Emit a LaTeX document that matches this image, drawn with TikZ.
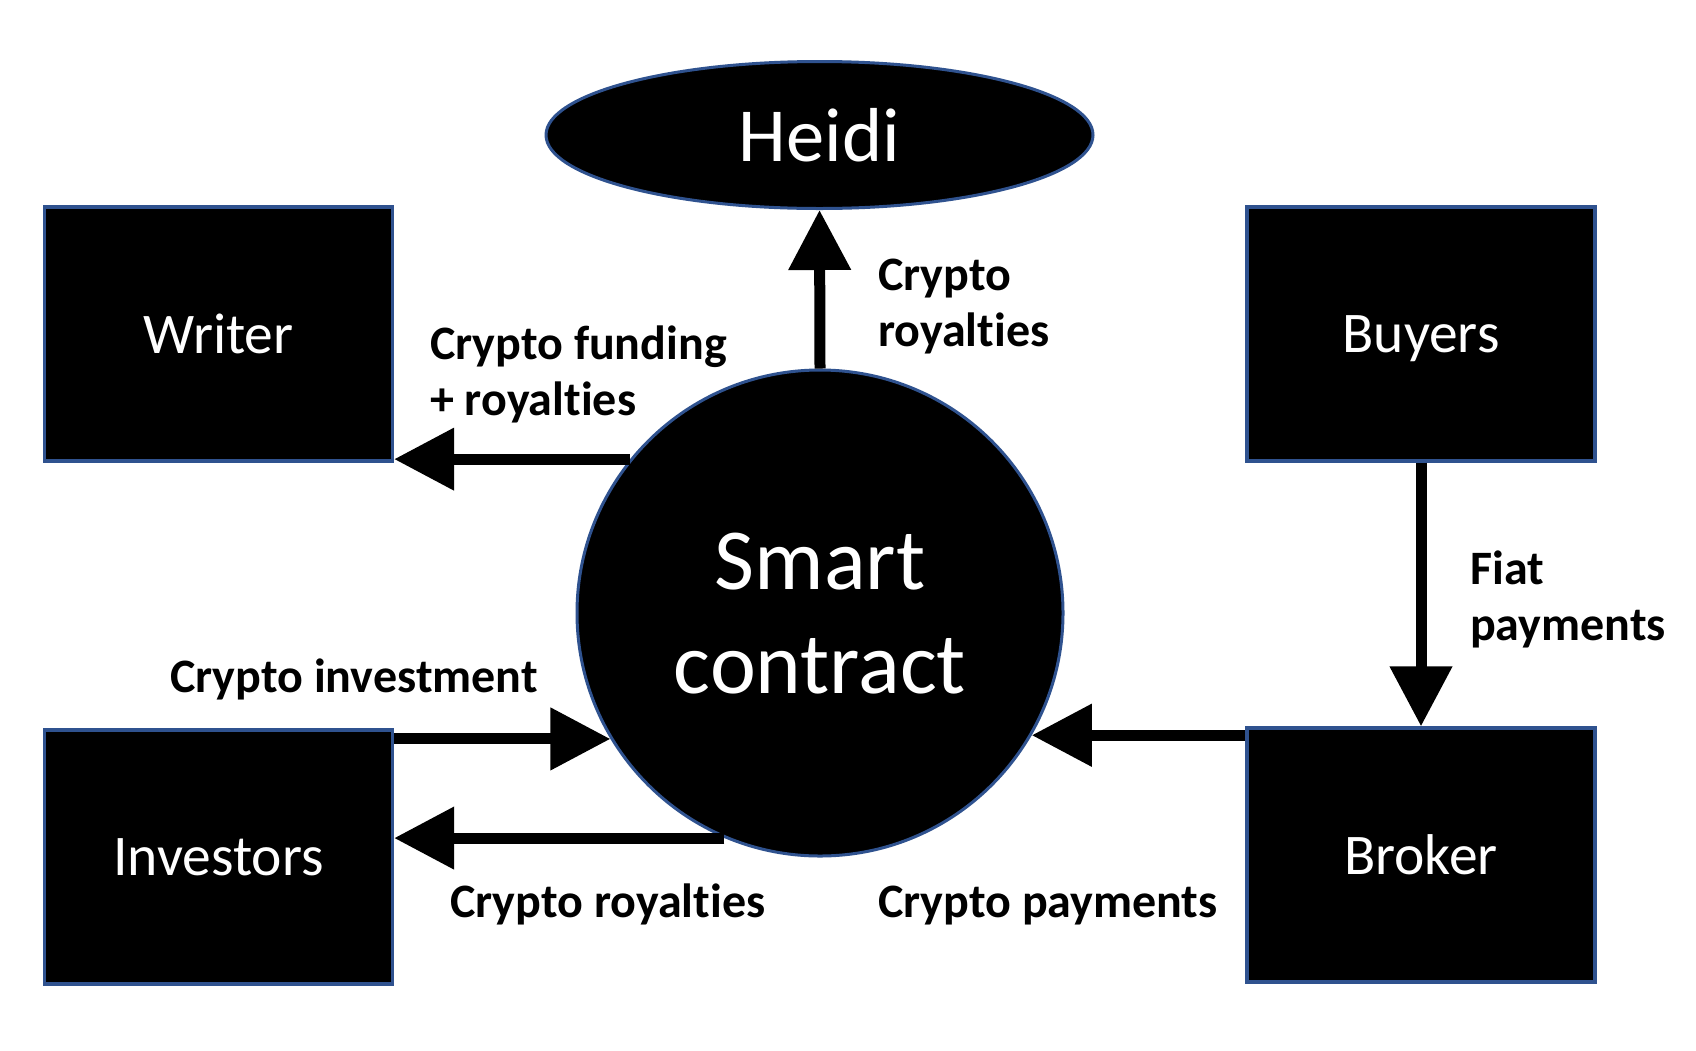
\documentclass[tikz,border=0pt]{standalone}
\usepackage{fontspec}
\setmainfont{Carlito}[Ligatures=NoCommon]
\usetikzlibrary{shapes.geometric,arrows.meta,calc}
\definecolor{edgeblue}{HTML}{2F528F}
\begin{document}
\begin{tikzpicture}[x=1pt,y=-1pt,
  box/.style={draw=edgeblue,fill=black,line width=3.3pt,minimum width=348pt,minimum height=254pt,inner sep=0pt,text=white,text depth=0pt,font=\fontsize{57.5}{69}\selectfont},
  flow/.style={line width=11pt,-{Triangle[length=60pt,width=60pt]}},
  lbl/.style={font=\bfseries\fontsize{48}{56}\selectfont,anchor=base west,inner sep=0pt,align=left}]
\useasboundingbox[fill=white] (0,0) rectangle (1696,1050);
\node[ellipse,draw=edgeblue,fill=black,line width=3pt,minimum width=547pt,minimum height=147pt,inner sep=0pt,text=white,font=\fontsize{76.5}{90}\selectfont] (heidi) at (819.5,135) {Heidi};
\node[circle,draw=edgeblue,fill=black,line width=3pt,minimum size=486pt,inner sep=0pt,text=white,align=center,text depth=-9pt,font=\fontsize{87}{104}\selectfont] (sc) at (820,613) {Smart\\contract};
\node[box] (writer) at (218.5,334) {Writer};
\node[box] (buyers) at (1421,334) {Buyers};
\node[box] (inv) at (218.5,857) {Investors};
\node[box] (broker) at (1421,855) {Broker};
\draw[flow] (sc.north) -- (heidi.south);
\draw[flow] (sc.141.6) -- (sc.141.6 -| writer.east);
\draw[flow] (sc.211.2 -| inv.east) -- (sc.211.2);
\draw[flow] (sc.247.8) -- (sc.247.8 -| inv.east);
\draw[flow] (sc.-30.1 -| broker.west) -- (sc.-30.1);
\draw[flow] (buyers.south) -- (broker.north);
\node[lbl] (l1) at (430,415) {Crypto funding\\+ royalties};
\node[lbl] (l2) at (878,346) {Crypto\\royalties};
\node[lbl] (l3) at (170,692) {Crypto investment};
\node[lbl] (l4) at (450,917) {Crypto royalties};
\node[lbl] (l5) at (878,917) {Crypto payments};
\node[lbl] (l6) at (1470,640) {Fiat\\payments};
\end{tikzpicture}
\end{document}
